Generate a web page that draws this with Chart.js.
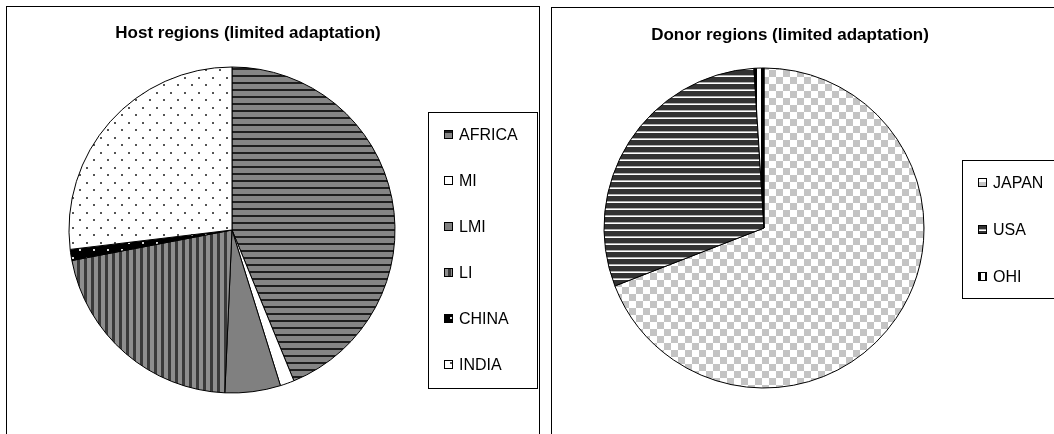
<!DOCTYPE html>
<html>
<head>
<meta charset="utf-8">
<script src="https://cdn.jsdelivr.net/npm/chart.js@4.4.1/dist/chart.umd.min.js"></script>
<style>
body { margin: 0; background: #fff; width: 1054px; height: 434px; overflow: hidden; position: relative; }
canvas { position: absolute; top: 0; }
#c1 { left: 0; }
#c2 { left: 545px; }
.panel { position: absolute; border: 1px solid #000; pointer-events: none; }
#p1 { left: 6px; top: 6px; width: 532px; height: 460px; }
#p2 { left: 551px; top: 7px; width: 560px; height: 460px; }
</style>
</head>
<body>
<canvas id="c1" width="545" height="434"></canvas>
<canvas id="c2" width="509" height="434"></canvas>
<div class="panel" id="p1"></div>
<div class="panel" id="p2"></div>
<script>
// dati (quote in %)
const hostLabels = ['AFRICA', 'MI', 'LMI', 'LI', 'CHINA', 'INDIA'];
const hostValues = [43.8, 1.4, 5.5, 21.3, 1.1, 26.9];
const donorLabels = ['JAPAN', 'USA', 'OHI'];
const donorValues = [69.1, 29.9, 1.0];

const FONT = '"Liberation Sans", Arial, sans-serif';

// tessiture stile Excel
function trama(w, h, draw) {
    const c = document.createElement('canvas');
    c.width = w; c.height = h;
    draw(c.getContext('2d'));
    return document.createElement('canvas').getContext('2d').createPattern(c, 'repeat');
}

const pAfrica = trama(1, 7, g => {
    g.fillStyle = '#858585'; g.fillRect(0, 0, 1, 7);
    g.fillStyle = '#1e1e1e'; g.fillRect(0, 5, 1, 2);
});
const pLI = trama(7, 1, g => {
    g.fillStyle = '#8e8e8e'; g.fillRect(0, 0, 7, 1);
    g.fillStyle = '#3a3a3a'; g.fillRect(0, 0, 3, 1);
});
const pIndia = trama(14, 15, g => {
    g.fillStyle = '#fff'; g.fillRect(0, 0, 14, 15);
    g.fillStyle = '#555'; g.fillRect(2, 2, 2, 2); g.fillRect(9, 9, 2, 2);
});
const pChina = trama(14, 15, g => {
    g.fillStyle = '#000'; g.fillRect(0, 0, 14, 15);
    g.fillStyle = '#ddd'; g.fillRect(2, 2, 2, 2); g.fillRect(9, 9, 2, 2);
});
const pJapan = trama(14, 14, g => {
    g.fillStyle = '#fff'; g.fillRect(0, 0, 14, 14);
    g.fillStyle = '#c4c4c4'; g.fillRect(0, 0, 7, 7); g.fillRect(7, 7, 7, 7);
});
const pUSA = trama(1, 7, g => {
    g.fillStyle = '#333'; g.fillRect(0, 0, 1, 7);
    g.fillStyle = '#b0b0b0'; g.fillRect(0, 5, 1, 1);
    g.fillStyle = '#fff'; g.fillRect(0, 6, 1, 1);
});
const pOHI = trama(8, 1, g => {
    g.fillStyle = '#fff'; g.fillRect(0, 0, 8, 1);
    g.fillStyle = '#000'; g.fillRect(0, 0, 4, 1);
});

// titolo + legenda con cornice
const boxLegend = {
    id: 'boxLegend',
    afterDraw(chart, args, o) {
        const ctx = chart.ctx;
        ctx.save();
        ctx.fillStyle = '#000';
        ctx.font = 'bold 17px ' + FONT;
        ctx.textAlign = 'center';
        ctx.textBaseline = 'middle';
        ctx.fillText(o.title, o.titleX, o.titleY);

        ctx.strokeStyle = '#000';
        ctx.lineWidth = 1;
        ctx.strokeRect(o.x + 0.5, o.y + 0.5, o.w, o.h);

        const ds = chart.data.datasets[0];
        ctx.font = '16px ' + FONT;
        ctx.textAlign = 'left';
        chart.data.labels.forEach((lab, i) => {
            const y = Math.round(o.firstY + i * o.step);
            ctx.fillStyle = ds.backgroundColor[i];
            ctx.fillRect(o.x + 16, y - 5, 9, 9);
            ctx.strokeRect(o.x + 16.5, y - 4.5, 8, 8);
            ctx.fillStyle = '#000';
            ctx.fillText(lab, o.x + 31, y + 1);
        });
        ctx.restore();
    }
};

function torta(id, labels, values, colors, radius, padding, leg) {
    return new Chart(document.getElementById(id), {
        type: 'pie',
        data: {
            labels: labels,
            datasets: [{
                data: values,
                backgroundColor: colors,
                borderColor: '#000',
                borderWidth: 1
            }]
        },
        options: {
            responsive: false,
            animation: false,
            events: [],
            radius: radius,
            layout: { padding: padding },
            plugins: {
                legend: { display: false },
                tooltip: { enabled: false },
                boxLegend: leg
            }
        },
        plugins: [boxLegend]
    });
}

torta('c1', hostLabels, hostValues,
    [pAfrica, '#fff', '#808080', pLI, pChina, pIndia],
    163, { left: 0, right: 81, top: 26, bottom: 0 },
    { title: 'Host regions (limited adaptation)', titleX: 248, titleY: 33,
      x: 428, y: 112, w: 109, h: 276, firstY: 134.5, step: 46.1 });

torta('c2', donorLabels, donorValues,
    [pJapan, pUSA, pOHI],
    160, { left: 0, right: 71, top: 22, bottom: 0 },
    { title: 'Donor regions (limited adaptation)', titleX: 245, titleY: 35,
      x: 417, y: 160, w: 120, h: 138, firstY: 183, step: 47 });
</script>
</body>
</html>
